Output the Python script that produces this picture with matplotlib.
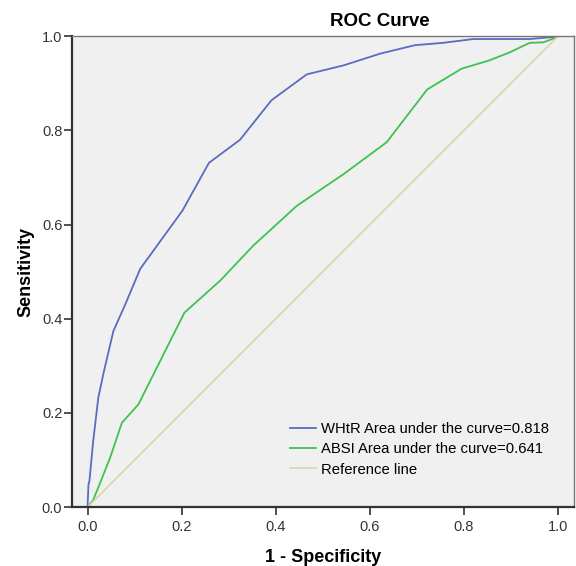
import matplotlib.pyplot as plt

# ROC points
whtr_fpr = [0.0, 0.002, 0.004, 0.012, 0.023, 0.035, 0.055, 0.08, 0.112, 0.202, 0.258,
            0.324, 0.391, 0.466, 0.544, 0.622, 0.696, 0.756, 0.82, 0.94, 0.997, 1.0]
whtr_tpr = [0.0, 0.048, 0.055, 0.14, 0.233, 0.289, 0.374, 0.43, 0.506, 0.630, 0.731,
            0.780, 0.864, 0.919, 0.938, 0.963, 0.981, 0.986, 0.994, 0.994, 0.999, 1.0]

absi_fpr = [0.0, 0.012, 0.027, 0.048, 0.073, 0.108, 0.206, 0.282, 0.352, 0.445, 0.544,
            0.636, 0.722, 0.795, 0.855, 0.898, 0.94, 0.969, 0.99, 1.0]
absi_tpr = [0.0, 0.015, 0.052, 0.105, 0.179, 0.218, 0.413, 0.481, 0.555, 0.64, 0.707,
            0.775, 0.887, 0.931, 0.949, 0.966, 0.986, 0.987, 0.995, 1.0]

ref_x = [0.0, 1.0]
ref_y = [0.0, 1.0]

labels = ["WHtR Area under the curve=0.818",
          "ABSI Area under the curve=0.641",
          "Reference line"]
ticks = [0.0, 0.2, 0.4, 0.6, 0.8, 1.0]

plt.rcParams['font.family'] = ['Liberation Sans', 'DejaVu Sans']

fig = plt.figure(figsize=(5.76, 5.66), dpi=100)
ax = fig.add_axes([0.125, 0.104, 0.8715, 0.832])
ax.set_facecolor('#f0f0f0')

ax.plot(whtr_fpr, whtr_tpr, color='#5a6cc2', lw=1.3, label=labels[0])
ax.plot(absi_fpr, absi_tpr, color='#3fc24f', lw=1.3, label=labels[1])
ax.plot(ref_x, ref_y, color='#d9d6a6', lw=1.2, label=labels[2])

ax.set_xlim(-0.033, 1.034)
ax.set_ylim(0.0, 1.0)
ax.set_xticks(ticks)
ax.set_yticks(ticks)
ax.set_xticklabels([f"{t:.1f}" for t in ticks])
ax.set_yticklabels([f"{t:.1f}" for t in ticks])
ax.tick_params(direction='out', length=6, width=1.2, labelsize=10.5,
               colors='#333333', labelcolor='#333333')
ax.tick_params(axis='y', pad=1)
ax.tick_params(axis='x', pad=3)

for side in ['left', 'bottom']:
    ax.spines[side].set_linewidth(1.6)
    ax.spines[side].set_color('#333333')
for side in ['top', 'right']:
    ax.spines[side].set_linewidth(1.0)
    ax.spines[side].set_color('#777777')

# SPSS puts the title right of centre
fig.text(380 / 576, 1 - 22 / 566, "ROC Curve", fontsize=13.5, fontweight='bold',
         ha='center', va='center')
ax.set_xlabel("1 - Specificity", fontsize=13, fontweight='bold', labelpad=11)
ax.set_ylabel("Sensitivity", fontsize=13, fontweight='bold', labelpad=5)

ax.legend(loc='upper left', bbox_to_anchor=(0.422, 0.193), borderaxespad=0,
          frameon=False, fontsize=10.7, handlelength=1.75, handletextpad=0.35,
          labelspacing=0.42)

fig.savefig("out.png", dpi=100)
